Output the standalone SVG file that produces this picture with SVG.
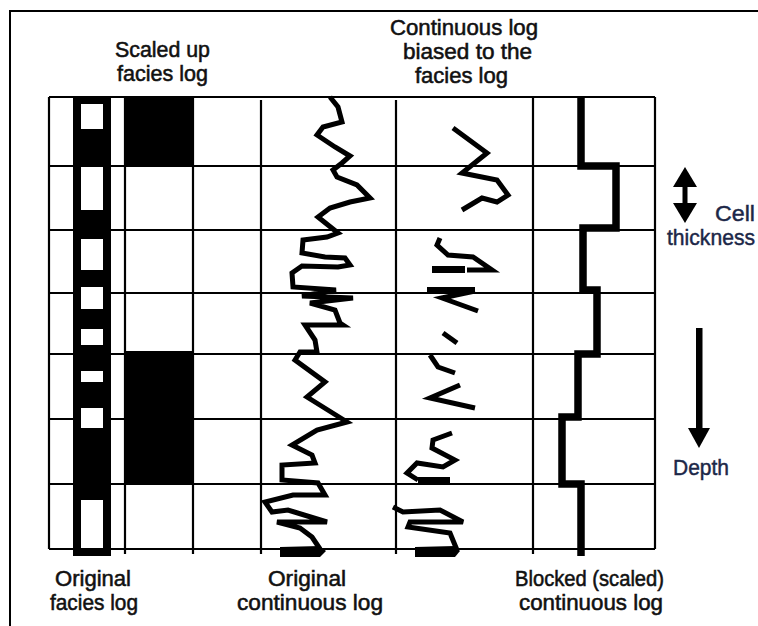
<svg xmlns="http://www.w3.org/2000/svg" width="758" height="626" viewBox="0 0 758 626">
  <style>
    .grid { stroke: #000; stroke-width: 2.2; fill: none; }
    .frame { stroke: #000; stroke-width: 2; fill: none; }
    .curve { stroke: #000; stroke-width: 5; fill: none; stroke-linejoin: miter; stroke-miterlimit: 4; stroke-linecap: butt; }
    .block { stroke: #000; stroke-width: 7.5; fill: none; stroke-linejoin: miter; }
    .lbl { font-family: "Liberation Sans", Arial, sans-serif; font-size: 22px; fill: #111; stroke: #111; stroke-width: 0.55; }
    .side { font-family: "Liberation Sans", Arial, sans-serif; font-size: 22px; fill: #1c2748; stroke: #1c2748; stroke-width: 0.45; }
  </style>

  <rect width="758" height="626" fill="#fff"/>
  <!-- outer frame -->
  <path class="frame" d="M10,626 V11 H758"/>

  <!-- grid -->
  <g id="grid">
    <path class="grid" d="M49,97 H655 M49,166 H655 M49,230 H655 M49,293 H655 M49,354 H655 M49,419 H655 M49,484 H655 M49,549 H655"/>
    <path class="grid" d="M49,97 V549 M125,97 V554 M193,97 V554 M261,100 V554 M396,100 V554 M533,97 V554 M655,97 V549"/>
  </g>

  <!-- original facies log -->
  <g id="facies-log">
    <rect x="73" y="97" width="38" height="459" fill="#000"/>
    <g fill="#fff">
      <rect x="81" y="104" width="22" height="25"/>
      <rect x="81" y="167" width="22" height="43"/>
      <rect x="81" y="239" width="22" height="31"/>
      <rect x="81" y="287" width="22" height="22"/>
      <rect x="81" y="329" width="22" height="16"/>
      <rect x="81" y="371" width="22" height="11"/>
      <rect x="81" y="408" width="22" height="20"/>
      <rect x="81" y="500" width="22" height="48"/>
    </g>
  </g>

  <!-- scaled up facies log -->
  <g id="scaled-facies">
    <rect x="124" y="97" width="70" height="69" fill="#000"/>
    <rect x="124" y="351" width="70" height="133" fill="#000"/>
  </g>

  <!-- original continuous log -->
  <g id="continuous-log">
    <polyline class="curve" points="330,97 338,107 342,122 323,127 317,135 335,147 350,156 342,163 333,170 337,177 357,185 370,198 350,202 330,208 318,217 328,225 338,233 327,237 303,240 302,253 325,257 345,258 350,265 338,267 302,266 292,273 293,287 336,290 302,296 353,298 310,303 335,310 340,323 343,325 305,325 315,340 317,352 300,352 295,360 325,382 307,397 323,407 347,422 317,430 292,445 312,455 315,463 282,465 282,480 318,483 325,495 293,495 265,502 272,512 288,510 327,522 277,522 300,528 312,537 320,549"/>
    <polygon points="280,547 320,546 326,551 320,557 280,557" fill="#000"/>
  </g>

  <!-- continuous log biased to the facies log -->
  <g id="biased-log">
    <polyline class="curve" points="453,128 487,153 462,173 497,180 508,195 497,202 482,198 462,210"/>
    <polyline class="curve" points="440,238 437,245 448,255 473,257 492,270 467,270"/>
    <rect x="432" y="266" width="33" height="7" fill="#000"/>
    <rect x="427" y="287" width="48" height="7" fill="#000"/>
    <polyline class="curve" points="475,291 442,298 478,311"/>
    <polyline class="curve" points="443,333 457,343"/>
    <polyline class="curve" points="430,355 438,367 455,373"/>
    <polyline class="curve" points="460,385 430,398 475,408"/>
    <polyline class="curve" points="452,433 433,440 432,448 455,460 443,467 417,463 407,473 418,480"/>
    <rect x="418" y="477" width="32" height="7" fill="#000"/>
    <polyline class="curve" points="393,507 403,512 440,510 463,522 410,522 408,527 450,533 457,550"/>
    <polygon points="415,547 455,546 460,551 455,557 415,557" fill="#000"/>
  </g>

  <!-- blocked (scaled) continuous log -->
  <g id="blocked-log">
    <path class="block" d="M581,97 V166 H616 V228 H583 V290 H597 V354 H578 V417 H562 V484 H581 V556"/>
  </g>

  <!-- arrows -->
  <g id="connectors">
    <g id="cell-arrow">
      <rect x="682.5" y="185" width="5" height="20" fill="#000"/>
      <polygon points="685,167 673,187 697,187" fill="#000"/>
      <polygon points="685,223 673,203 697,203" fill="#000"/>
    </g>
    <g id="depth-arrow">
      <rect x="696" y="328" width="6.5" height="102" fill="#000"/>
      <polygon points="699,448 688,428 710,428" fill="#000"/>
    </g>
  </g>

  <!-- labels -->
  <g id="labels">
    <text class="lbl" x="162.5" y="57" text-anchor="middle" textLength="95" lengthAdjust="spacingAndGlyphs">Scaled up</text>
    <text class="lbl" x="162.5" y="81" text-anchor="middle" textLength="91" lengthAdjust="spacingAndGlyphs">facies log</text>
    <text class="lbl" x="464" y="35" text-anchor="middle" textLength="148" lengthAdjust="spacingAndGlyphs">Continuous log</text>
    <text class="lbl" x="467.5" y="59" text-anchor="middle" textLength="129" lengthAdjust="spacingAndGlyphs">biased to the</text>
    <text class="lbl" x="461.5" y="83" text-anchor="middle" textLength="93" lengthAdjust="spacingAndGlyphs">facies log</text>

    <text class="lbl" x="93" y="586" text-anchor="middle" textLength="76" lengthAdjust="spacingAndGlyphs">Original</text>
    <text class="lbl" x="94" y="610" text-anchor="middle" textLength="88" lengthAdjust="spacingAndGlyphs">facies log</text>
    <text class="lbl" x="307" y="586" text-anchor="middle" textLength="78" lengthAdjust="spacingAndGlyphs">Original</text>
    <text class="lbl" x="310" y="610" text-anchor="middle" textLength="146" lengthAdjust="spacingAndGlyphs">continuous log</text>
    <text class="lbl" x="589.5" y="586" text-anchor="middle" textLength="149" lengthAdjust="spacingAndGlyphs">Blocked (scaled)</text>
    <text class="lbl" x="591" y="610" text-anchor="middle" textLength="144" lengthAdjust="spacingAndGlyphs">continuous log</text>

    <text class="side" x="755" y="221" text-anchor="end" textLength="40" lengthAdjust="spacingAndGlyphs">Cell</text>
    <text class="side" x="755" y="245" text-anchor="end" textLength="88" lengthAdjust="spacingAndGlyphs">thickness</text>
    <text class="side" x="701" y="475" text-anchor="middle" textLength="56" lengthAdjust="spacingAndGlyphs">Depth</text>
  </g>
</svg>
